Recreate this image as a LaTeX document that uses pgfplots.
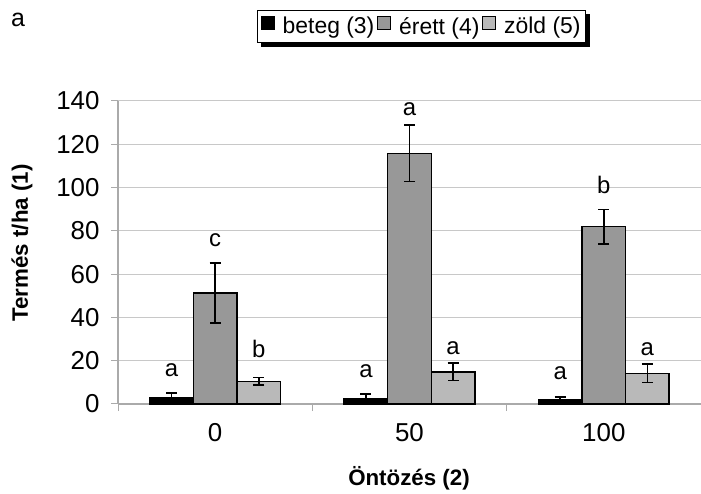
\documentclass[border=0pt]{standalone}
\usepackage{fontspec}
\setmainfont{Liberation Sans}
\usepackage{pgfplots}
\pgfplotsset{compat=1.18}
\pgfdeclarelayer{background}
\pgfsetlayers{background,main}
\definecolor{erett}{RGB}{152,152,152}
\definecolor{zold}{RGB}{185,185,185}
\definecolor{gridc}{RGB}{200,200,200}
\definecolor{axc}{RGB}{170,170,170}
\begin{document}
\begin{tikzpicture}
\begin{axis}[
  at={(118bp,90bp)}, anchor=south west,
  scale only axis, width=583bp, height=303bp,
  ybar=0pt, bar width=43.6bp,
  xmin=-0.5, xmax=2.5, ymin=0, ymax=140,
  ytick={0,20,...,140},
  xtick={0,1,2}, xticklabels={0,50,100},
  minor xtick={-0.5,0.5,1.5},
  major x tick style={draw=none},
  minor x tick style={draw=axc, line width=1bp},
  ytick style={draw=axc, line width=1bp},
  tick align=outside,
  major tick length=7bp, minor tick length=7bp,
  axis x line*=bottom, axis y line*=left,
  axis line style={draw=axc, line width=1.2bp},
  ymajorgrids, grid style={draw=gridc, line width=1bp},
  tick label style={font=\fontsize{26}{28}\selectfont},
  /pgf/number format/assume math mode=true,
  yticklabel style={xshift=-8bp},
  xticklabel style={yshift=-9bp},
  legend columns=3,
  legend style={name=leg, at={(0.521,1)}, anchor=south, yshift=58bp, draw=black, line width=0.8bp, fill=white,
    font=\fontsize{23}{26}\selectfont, inner xsep=3bp, inner ysep=5bp,
    /tikz/every odd column/.append style={column sep=6bp},
    /tikz/every even column/.append style={column sep=1bp}},
  error bars/y dir=both, error bars/y explicit,
  error bars/error bar style={line width=1.7bp, black},
  error bars/error mark=-,
  error bars/error mark options={rotate=90, line width=1.7bp, mark size=5.5bp, black},
  clip=false,
]
\addplot[fill=black, draw=black, line width=1.5bp,
  legend image code/.code={\draw[fill=black, draw=black, line width=0.8bp] (0bp,-3bp) rectangle (13bp,10bp);}]
  coordinates {(0,2.8) +- (0,2.4) (1,2.5) +- (0,2.0) (2,1.8) +- (0,1.3)};
\addlegendentry{beteg (3)}
\addplot[fill=erett, draw=black, line width=1.5bp,
  legend image code/.code={\draw[fill=erett, draw=black, line width=0.8bp] (0bp,-3bp) rectangle (13bp,10bp);}]
  coordinates {(0,51.4) +- (0,13.9) (1,115.8) +- (0,13.0) (2,81.9) +- (0,8.0)};
\addlegendentry{érett (4)}
\addplot[fill=zold, draw=black, line width=1.5bp,
  legend image code/.code={\draw[fill=zold, draw=black, line width=0.8bp] (0bp,-3bp) rectangle (13bp,10bp);}]
  coordinates {(0,10.5) +- (0,1.8) (1,14.9) +- (0,4.0) (2,14.2) +- (0,4.3)};
\addlegendentry{zöld (5)}
\begin{scope}[every node/.style={font=\fontsize{24}{26}\selectfont}]
\node at (axis cs:-0.224,15.7) {a};
\node at (axis cs:0,75.8) {c};
\node at (axis cs:0.224,25.4) {b};
\node at (axis cs:0.776,15.2) {a};
\node at (axis cs:1,136.3) {a};
\node at (axis cs:1.224,25.9) {a};
\node at (axis cs:1.776,14.3) {a};
\node at (axis cs:2,101.2) {b};
\node at (axis cs:2.224,25.4) {a};
\end{scope}
\end{axis}
\begin{pgfonlayer}{background}
\fill[black] ([shift={(4bp,-4bp)}]leg.south west) rectangle ([shift={(4bp,-4bp)}]leg.north east);
\end{pgfonlayer}
\node[font=\fontsize{25}{27}\selectfont] at (18bp,474bp) {a};
\node[rotate=90, font=\bfseries\fontsize{22.4}{25}\selectfont] at (22bp,251bp) {Termés t/ha (1)};
\node[font=\bfseries\fontsize{22.4}{25}\selectfont] at (409bp,16bp) {Öntözés (2)};
\pgfresetboundingbox
\useasboundingbox (0,0) rectangle (701bp,494bp);
\end{tikzpicture}
\end{document}
